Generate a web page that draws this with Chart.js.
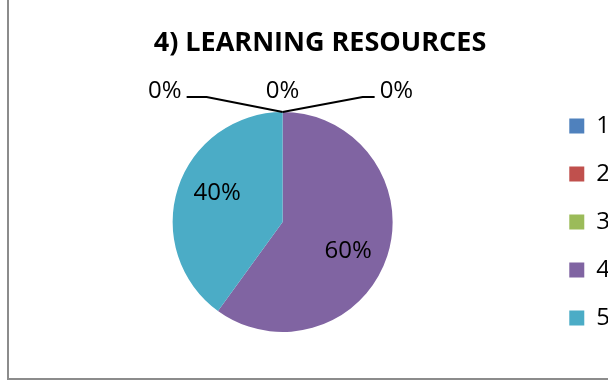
<!DOCTYPE html>
<html>
<head>
<meta charset="utf-8">
<style>
  html, body { margin: 0; padding: 0; background: #ffffff; }
  #wrap { position: relative; width: 608px; height: 381px; overflow: hidden; }
  #frame {
    position: absolute; left: 7px; top: -5px; width: 700px; height: 385px;
    box-sizing: border-box; border: 2px solid #8c8c8c;
  }
  #chart { position: absolute; left: 0; top: 0; }
</style>
<script src="https://cdn.jsdelivr.net/npm/chart.js@4.4.1/dist/chart.umd.min.js"></script>
</head>
<body>
<div id="wrap">
  <div id="frame"></div>
  <canvas id="chart" width="608" height="381"></canvas>
</div>
<script>
const chartTitle = '4) LEARNING RESOURCES';
const categories = ['1', '2', '3', '4', '5'];
const shares = [0, 0, 0, 60, 40];
const sliceColors = ['#4F81BD', '#C0504D', '#9BBB59', '#8064A2', '#4BACC6'];

// where the 0% labels sit relative to the top of the pie (label x, line elbow x)
const zeroLabels = [
  { dx: -101, dy: -21, align: 'right', elbow: -76, end: -96 },
  { dx: 0, dy: -21, align: 'center', elbow: null, end: null },
  { dx: 97, dy: -21, align: 'left', elbow: 80, end: 92 },
];

Chart.defaults.font.family = '"Open Sans", sans-serif';
Chart.defaults.color = '#000000';

function percentText(value, total) {
  if (!total) {
    return '0%';
  }
  return `${Math.round((value / total) * 100)}%`;
}

const pieLabels = {
  id: 'pieLabels',
  afterDatasetsDraw(chart) {
    const { ctx } = chart;
    const meta = chart.getDatasetMeta(0);
    const values = chart.data.datasets[0].data;
    const total = values.reduce((sum, v) => sum + v, 0);
    let zeroIndex = 0;

    ctx.save();
    ctx.font = '24px "Open Sans", sans-serif';
    ctx.fillStyle = '#000000';
    ctx.textBaseline = 'middle';

    meta.data.forEach((arc, i) => {
      const { x, y, startAngle, endAngle, outerRadius } = arc.getProps(['x', 'y', 'startAngle', 'endAngle', 'outerRadius'], true);
      const text = percentText(values[i], total);

      if (values[i] > 0) {
        const mid = (startAngle + endAngle) / 2 + 0.1;
        ctx.textAlign = 'center';
        ctx.fillText(text, x + Math.cos(mid) * outerRadius * 0.65, y + Math.sin(mid) * outerRadius * 0.65);
        return;
      }

      const spot = zeroLabels[zeroIndex++];
      const ax = x + Math.cos(startAngle) * outerRadius;
      const ay = y + Math.sin(startAngle) * outerRadius;

      if (spot.elbow !== null) {
        ctx.beginPath();
        ctx.strokeStyle = '#000000';
        ctx.lineWidth = 2;
        ctx.moveTo(ax, ay);
        ctx.lineTo(ax + spot.elbow, ay - 15);
        ctx.lineTo(ax + spot.end, ay - 15);
        ctx.stroke();
      }

      ctx.textAlign = spot.align;
      ctx.fillText(text, ax + spot.dx, ay + spot.dy);
    });

    ctx.restore();
  },
};

new Chart(document.getElementById('chart'), {
  type: 'pie',
  data: {
    labels: categories,
    datasets: [{
      data: shares,
      backgroundColor: sliceColors,
      borderWidth: 0,
      radius: 110,
    }],
  },
  options: {
    responsive: false,
    animation: false,
    devicePixelRatio: 1,
    layout: {
      padding: { left: 20, right: -12, top: 0, bottom: 0 },
    },
    plugins: {
      title: {
        display: true,
        text: chartTitle,
        color: '#000000',
        font: { size: 27, weight: 'bold' },
        padding: { top: 27, bottom: 3.6 },
      },
      legend: {
        position: 'right',
        fullSize: false,
        labels: {
          boxWidth: 15,
          boxHeight: 15,
          padding: 24,
          color: '#000000',
          font: { size: 24 },
        },
      },
      tooltip: { enabled: false },
    },
  },
  plugins: [pieLabels],
});
</script>
</body>
</html>
